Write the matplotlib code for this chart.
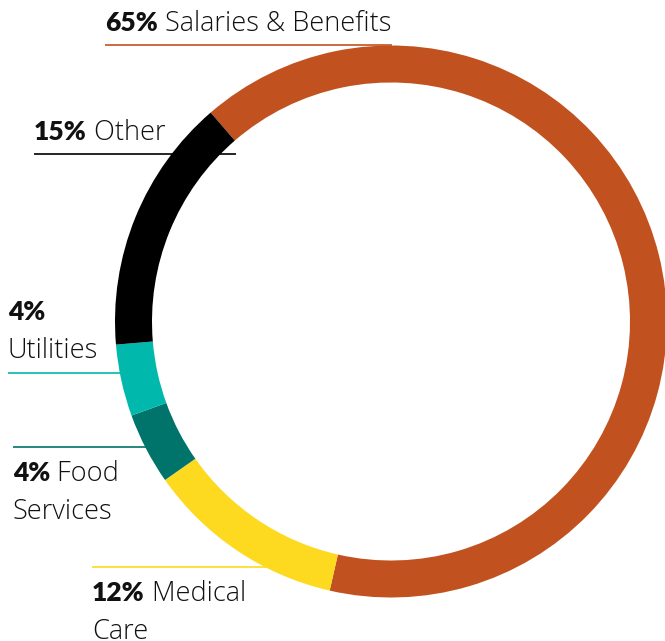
import matplotlib
matplotlib.use("Agg")
import matplotlib.pyplot as plt

# budget shares (%), clockwise from the upper-left; labels show them rounded
categories = ["Salaries & Benefits", "Medical Care", "Food Services", "Utilities", "Other"]
shares = [64.9, 11.7, 4.2, 4.2, 15.0]
pct_labels = ["65%", "12%", "4%", "4%", "15%"]
colors = ["#C1521F", "#FDDA1F", "#00736A", "#00B9AC", "#000000"]

W, H = 665, 641
CENTER = (391, H - 321.5)
R_OUT = 276
RING = 37

# label layout: (first line rest, second line, x, baseline y (from top), line y, line x0, line x1)
LABELS = {
    "Salaries & Benefits": (" Salaries & Benefits", None, 105, 31, 45, 105, 392),
    "Other": (" Other", None, 34, 140, 154, 34, 236),
    "Utilities": ("", "Utilities", 8, 320, 373, 8, 122),
    "Food Services": (" Food", "Services", 13, 481, 447, 13, 150),
    "Medical Care": (" Medical", "Care", 92, 601, 567, 92, 336),
}
LINE_STEP = 38
TEXT_FONT = ["Open Sans", "DejaVu Sans"]

plt.rcParams["font.family"] = ["Lato", "DejaVu Sans"]

fig = plt.figure(figsize=(W / 100, H / 100), dpi=100)
ax = fig.add_axes([0, 0, 1, 1])

ax.pie(
    shares,
    colors=colors,
    startangle=130.8,
    counterclock=False,
    radius=R_OUT,
    center=CENTER,
    wedgeprops={"width": RING, "linewidth": 0},
)
ax.set_xlim(0, W)
ax.set_ylim(0, H)
ax.set_aspect("equal")
ax.axis("off")

fig.canvas.draw()
renderer = fig.canvas.get_renderer()

for name, pct, color in zip(categories, pct_labels, colors):
    rest, second, x, base, ly, lx0, lx1 = LABELS[name]
    ax.plot([lx0, lx1], [H - ly, H - ly], color=color, lw=1.2, zorder=0,
            solid_capstyle="butt")
    t = ax.text(x, H - base, pct, fontsize=19, fontweight="heavy",
                color="#111111", va="baseline", ha="left")
    if rest:
        bb = t.get_window_extent(renderer)
        ax.text(bb.x1, H - base, rest, fontsize=19.5, fontweight="light",
                family=TEXT_FONT, color="#111111", va="baseline", ha="left")
    if second:
        ax.text(x, H - base - LINE_STEP, second, fontsize=19.5, fontweight="light",
                family=TEXT_FONT, color="#111111", va="baseline", ha="left")

fig.savefig("out.png", dpi=100)
